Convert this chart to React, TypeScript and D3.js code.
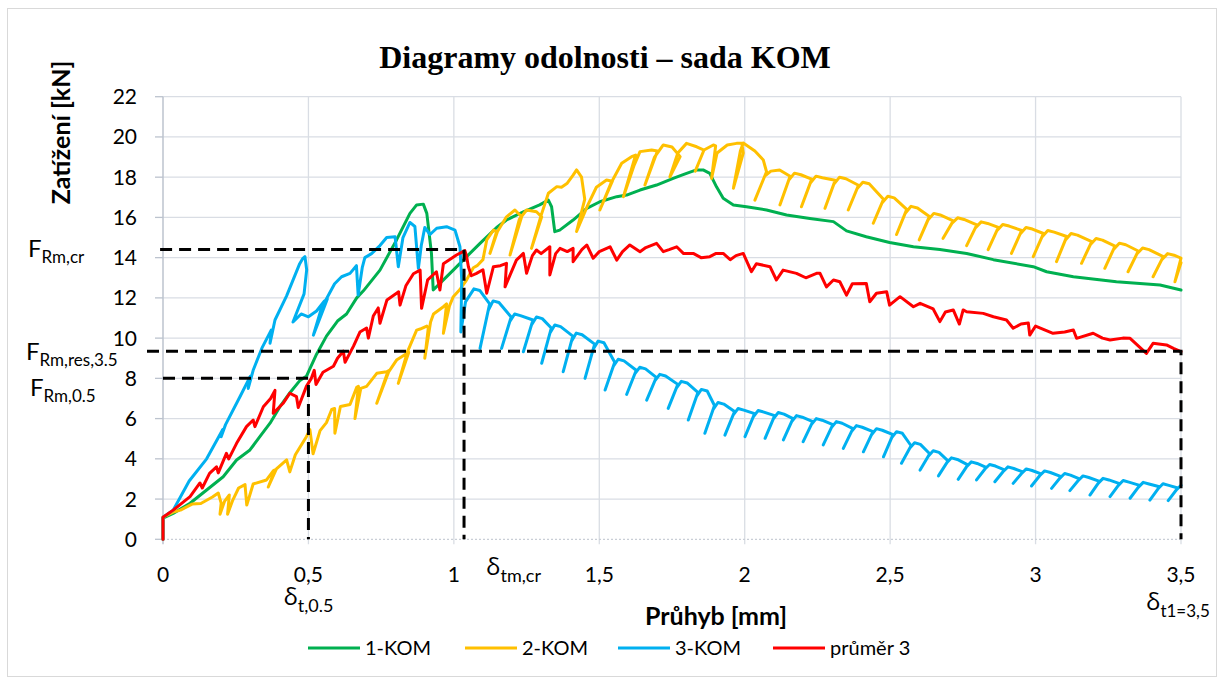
import React from 'react';
import * as d3 from 'd3';

type P = [number, number];

// ---------- axis ticks ----------
const xTicks: number[] = [0, 0.5, 1, 1.5, 2, 2.5, 3, 3.5];
const xTickLabels: string[] = ['0', '0,5', '1', '1,5', '2', '2,5', '3', '3,5'];
const yTicks: number[] = [0, 2, 4, 6, 8, 10, 12, 14, 16, 18, 20, 22];
const yTickLabels: string[] = ['0', '2', '4', '6', '8', '10', '12', '14', '16', '18', '20', '22'];

// ---------- series ----------
const seriesNames: string[] = ['1-KOM', '2-KOM', '3-KOM', 'průměr 3'];
const seriesColors: string[] = ['#00B050', '#FFC000', '#00B0F0', '#FF0000'];

const kom1: P[] = [
  [0, 0], [0, 1.05], [0.035, 1.29], [0.093, 1.79], [0.15, 2.45], [0.207, 3.11], [0.253, 3.94], [0.299, 4.44],
  [0.333, 5.1], [0.368, 5.77], [0.402, 6.59], [0.437, 7.3], [0.471, 7.9], [0.493, 8.1], [0.528, 9.2], [0.562, 10.1],
  [0.6, 10.85], [0.631, 11.2], [0.666, 12.0], [0.689, 12.35], [0.746, 13.38], [0.803, 14.88], [0.849, 16.2],
  [0.872, 16.62], [0.895, 16.66], [0.907, 16.2], [0.923, 14.21], [0.929, 12.39], [0.952, 12.72], [0.998, 13.38],
  [1.044, 14.05], [1.09, 14.71], [1.147, 15.5], [1.181, 15.87], [1.239, 16.28], [1.295, 16.62], [1.325, 16.86],
  [1.336, 16.53], [1.347, 15.29], [1.364, 15.37], [1.41, 15.87], [1.457, 16.45], [1.502, 16.78], [1.56, 17.03],
  [1.594, 17.11], [1.64, 17.36], [1.697, 17.61], [1.754, 17.94], [1.8, 18.19], [1.834, 18.36], [1.857, 18.36],
  [1.88, 18.19], [1.903, 17.52], [1.926, 16.95], [1.961, 16.62], [2.006, 16.53], [2.075, 16.37], [2.144, 16.12],
  [2.224, 15.95], [2.305, 15.79], [2.35, 15.33], [2.418, 15.04], [2.498, 14.75], [2.58, 14.54], [2.671, 14.4],
  [2.763, 14.21], [2.855, 13.9], [2.992, 13.55], [3.038, 13.3], [3.13, 13.05], [3.278, 12.8], [3.428, 12.64],
  [3.5, 12.39],
];

const kom2: P[] = [
  [0, 0], [0, 1.1], [0.035, 1.35], [0.06, 1.45], [0.1, 1.75], [0.13, 1.78], [0.17, 2.1], [0.19, 2.3], [0.2, 1.8],
  [0.196, 1.25], [0.212, 1.9], [0.228, 2.2], [0.222, 1.25], [0.24, 1.95], [0.26, 2.55], [0.282, 2.72], [0.288, 1.7],
  [0.31, 2.75], [0.356, 2.95], [0.379, 3.4], [0.385, 3.45], [0.362, 2.6], [0.39, 3.5], [0.425, 3.95], [0.436, 3.35],
  [0.455, 4.2], [0.493, 5.1], [0.505, 5.45], [0.516, 4.25], [0.54, 5.4], [0.562, 5.8], [0.58, 6.45], [0.59, 6.5],
  [0.591, 5.27], [0.61, 6.6], [0.643, 6.7], [0.666, 7.55], [0.672, 7.6], [0.66, 6.0], [0.68, 7.5], [0.7, 7.6],
  [0.735, 8.25], [0.769, 8.33], [0.778, 8.4], [0.735, 6.76], [0.77, 8.2], [0.803, 8.91], [0.838, 9.24], [0.845, 9.3],
  [0.809, 7.75], [0.84, 9.3], [0.872, 10.4], [0.884, 10.45], [0.907, 10.6], [0.912, 10.5], [0.9, 9.0], [0.92, 10.8],
  [0.93, 11.2], [0.964, 11.56], [0.975, 11.7], [0.964, 10.24], [0.985, 11.6], [0.998, 12.06], [1.02, 12.4],
  [1.044, 12.9], [1.067, 13.5], [1.08, 13.6], [1.1, 13.9], [1.113, 14.88], [1.136, 15.37], [1.147, 15.29],
  [1.124, 14.21], [1.15, 15.3], [1.181, 16.03], [1.21, 16.37], [1.233, 16.03], [1.193, 14.13], [1.225, 15.9],
  [1.25, 16.37], [1.284, 16.28], [1.302, 16.03], [1.267, 14.46], [1.3, 16.1], [1.325, 17.2], [1.354, 17.53],
  [1.37, 17.5], [1.39, 17.7], [1.41, 18.1], [1.422, 18.36], [1.439, 18.0], [1.45, 16.9], [1.422, 15.3], [1.46, 16.6],
  [1.49, 17.5], [1.525, 17.86], [1.545, 17.8], [1.502, 16.37], [1.54, 17.7], [1.577, 18.69], [1.611, 19.02],
  [1.625, 19.1], [1.583, 17.03], [1.62, 18.6], [1.64, 19.27], [1.68, 19.35], [1.7, 19.3], [1.657, 17.61], [1.69, 19.0],
  [1.72, 19.6], [1.75, 19.5], [1.778, 19.02], [1.743, 18.02], [1.77, 19.2], [1.8, 19.68], [1.835, 19.51],
  [1.86, 19.35], [1.83, 18.3], [1.86, 19.35], [1.892, 19.6], [1.9, 19.55], [1.886, 17.94], [1.905, 19.2],
  [1.94, 19.6], [1.972, 19.68], [1.99, 19.68], [1.995, 19.2], [1.961, 17.45], [1.985, 19.3], [1.995, 19.7],
  [2.035, 19.3], [2.064, 18.85], [2.075, 18.27], [2.035, 16.86], [2.069, 18.06], [2.09, 18.3],
  [2.12, 18.36], [2.156, 18.05],
  [2.121, 16.62], [2.151, 17.84], [2.171, 18.2], [2.193, 18.12], [2.23, 17.9],
  [2.195, 16.53], [2.225, 17.69], [2.245, 18.05], [2.267, 17.97], [2.311, 17.85],
  [2.276, 16.45], [2.306, 17.64], [2.326, 18.0], [2.348, 17.92], [2.391, 17.6],
  [2.356, 16.37], [2.386, 17.42], [2.406, 17.75], [2.428, 17.67], [2.477, 16.9],
  [2.442, 15.71], [2.472, 16.72], [2.492, 17.05], [2.514, 16.97], [2.557, 16.4],
  [2.522, 15.15], [2.552, 16.21], [2.572, 16.55], [2.594, 16.47], [2.635, 16.05],
  [2.6, 14.88], [2.63, 15.87], [2.65, 16.2], [2.672, 16.12], [2.717, 15.83],
  [2.682, 14.96], [2.712, 15.7], [2.732, 15.98], [2.754, 15.9], [2.798, 15.63],
  [2.763, 14.6], [2.793, 15.48], [2.813, 15.78], [2.835, 15.7], [2.872, 15.5],
  [2.837, 14.4], [2.867, 15.34], [2.887, 15.65], [2.909, 15.57], [2.952, 15.35],
  [2.917, 14.21], [2.947, 15.18], [2.967, 15.5], [2.989, 15.42], [3.027, 15.2],
  [2.992, 14.05], [3.022, 15.03], [3.042, 15.35], [3.064, 15.27], [3.107, 15.05],
  [3.072, 13.8], [3.102, 14.86], [3.122, 15.2], [3.144, 15.12], [3.193, 14.8],
  [3.158, 13.72], [3.188, 14.64], [3.208, 14.95], [3.23, 14.87], [3.273, 14.57],
  [3.238, 13.47], [3.268, 14.41], [3.288, 14.72], [3.31, 14.64], [3.353, 14.33],
  [3.318, 13.3], [3.348, 14.18], [3.368, 14.48], [3.39, 14.4], [3.439, 14.05],
  [3.404, 13.05], [3.434, 13.9], [3.454, 14.2], [3.476, 14.12], [3.5, 13.98],
  [3.479, 12.8], [3.5, 13.75],
];

const kom3: P[] = [
  [0, 0], [0, 1.1], [0.035, 1.45], [0.09, 2.9], [0.15, 4.0], [0.205, 5.45], [0.2, 5.1], [0.215, 5.7], [0.265, 7.1],
  [0.3, 8.1], [0.293, 7.5], [0.31, 8.4], [0.34, 9.5], [0.372, 10.4], [0.368, 9.75], [0.385, 10.9], [0.425, 12.1],
  [0.47, 13.7], [0.48, 13.95], [0.488, 14.05], [0.494, 13.4], [0.485, 12.2], [0.447, 10.8], [0.475, 11.2], [0.5, 11.06],
  [0.528, 11.35], [0.555, 11.85], [0.565, 11.95], [0.517, 10.15], [0.545, 11.5], [0.59, 12.7], [0.614, 13.05],
  [0.643, 13.22], [0.665, 13.6], [0.671, 12.14], [0.685, 13.5], [0.694, 14.0], [0.717, 14.2], [0.746, 14.6],
  [0.769, 15.0], [0.798, 15.04], [0.809, 13.55], [0.825, 15.0], [0.849, 15.75], [0.866, 15.55], [0.878, 13.47],
  [0.888, 14.6], [0.9, 15.5], [0.918, 15.15], [0.941, 15.46], [0.975, 15.54], [1.004, 15.37], [1.021, 14.54],
  [1.027, 12.9],
  [1.024, 10.3], [1.04, 11.8], [1.069, 12.45], [1.089, 12.37], [1.123, 11.7],
  [1.09, 9.49], [1.118, 11.37], [1.135, 11.85], [1.155, 11.77], [1.197, 11.05],
  [1.164, 9.49], [1.192, 10.82], [1.209, 11.2], [1.229, 11.12], [1.272, 10.9],
  [1.239, 9.32], [1.267, 10.66], [1.284, 11.05], [1.304, 10.97], [1.335, 10.5],
  [1.302, 8.75], [1.33, 10.24], [1.347, 10.65], [1.367, 10.57], [1.409, 10.1],
  [1.376, 8.33], [1.404, 9.83], [1.421, 10.25], [1.441, 10.17], [1.484, 9.7],
  [1.451, 8.0], [1.479, 9.45], [1.496, 9.85], [1.516, 9.77], [1.553, 8.8],
  [1.52, 7.42], [1.548, 8.59], [1.565, 8.95], [1.585, 8.87], [1.627, 8.4],
  [1.594, 7.2], [1.622, 8.22], [1.639, 8.55], [1.659, 8.47], [1.696, 8.05],
  [1.663, 6.92], [1.691, 7.88], [1.708, 8.2], [1.728, 8.12], [1.77, 7.7],
  [1.737, 6.51], [1.765, 7.52], [1.782, 7.85], [1.802, 7.77], [1.839, 7.3],
  [1.806, 5.93], [1.834, 7.09], [1.851, 7.45], [1.871, 7.37], [1.896, 6.65],
  [1.863, 5.27], [1.891, 6.44], [1.908, 6.8], [1.928, 6.72], [1.965, 6.35],
  [1.932, 5.18], [1.96, 6.17], [1.977, 6.5], [1.997, 6.42], [2.034, 6.25],
  [2.001, 5.1], [2.029, 6.08], [2.046, 6.4], [2.066, 6.32], [2.103, 6.15],
  [2.07, 5.02], [2.098, 5.98], [2.115, 6.3], [2.135, 6.22], [2.166, 6.0],
  [2.133, 4.94], [2.161, 5.84], [2.178, 6.15], [2.198, 6.07], [2.234, 5.85],
  [2.201, 4.85], [2.229, 5.7], [2.246, 6.0], [2.266, 5.92], [2.303, 5.7],
  [2.27, 4.69], [2.298, 5.55], [2.315, 5.85], [2.335, 5.77], [2.372, 5.5],
  [2.339, 4.52], [2.367, 5.35], [2.384, 5.65], [2.404, 5.57], [2.441, 5.35],
  [2.408, 4.35], [2.436, 5.2], [2.453, 5.5], [2.473, 5.42], [2.51, 5.2],
  [2.477, 4.1], [2.505, 5.04], [2.522, 5.35], [2.542, 5.27], [2.572, 4.65],
  [2.539, 3.78], [2.567, 4.52], [2.584, 4.8], [2.604, 4.72], [2.636, 4.25],
  [2.603, 3.44], [2.631, 4.13], [2.648, 4.4], [2.668, 4.32], [2.699, 3.9],
  [2.666, 3.15], [2.694, 3.79], [2.711, 4.05], [2.731, 3.97], [2.767, 3.7],
  [2.734, 2.98], [2.762, 3.59], [2.779, 3.85], [2.799, 3.77], [2.83, 3.57],
  [2.797, 2.95], [2.825, 3.48], [2.842, 3.72], [2.862, 3.64], [2.893, 3.45],
  [2.86, 2.86], [2.888, 3.36], [2.905, 3.6], [2.925, 3.52], [2.956, 3.35],
  [2.923, 2.78], [2.951, 3.26], [2.968, 3.5], [2.988, 3.42], [3.019, 3.25],
  [2.986, 2.65], [3.014, 3.16], [3.031, 3.4], [3.051, 3.32], [3.088, 3.12],
  [3.055, 2.53], [3.083, 3.03], [3.1, 3.27], [3.12, 3.19], [3.151, 3.0],
  [3.118, 2.42], [3.146, 2.91], [3.163, 3.15], [3.183, 3.07], [3.22, 2.88],
  [3.187, 2.2], [3.215, 2.78], [3.232, 3.03], [3.252, 2.95], [3.289, 2.77],
  [3.256, 2.12], [3.284, 2.67], [3.301, 2.92], [3.321, 2.84], [3.358, 2.68],
  [3.325, 2.04], [3.353, 2.58], [3.37, 2.83], [3.39, 2.75], [3.426, 2.61],
  [3.393, 1.95], [3.421, 2.51], [3.438, 2.76], [3.458, 2.68], [3.489, 2.55],
  [3.456, 1.92], [3.484, 2.46], [3.5, 2.68],
];

const prumer3: P[] = [
  [0, 0], [0, 1.1], [0.035, 1.45], [0.093, 2.12], [0.127, 2.8], [0.135, 2.55], [0.16, 3.28], [0.184, 3.6],
  [0.19, 3.3], [0.218, 4.27], [0.226, 4.0], [0.253, 4.77], [0.287, 5.6], [0.31, 5.93], [0.316, 5.6], [0.345, 6.59],
  [0.37, 7.0], [0.385, 7.4], [0.379, 6.26], [0.413, 6.76], [0.436, 7.26], [0.459, 7.09], [0.465, 6.55], [0.493, 7.6],
  [0.51, 8.0], [0.52, 8.4], [0.526, 7.7], [0.55, 8.3], [0.586, 8.6], [0.6, 9.0], [0.62, 9.35], [0.626, 8.8],
  [0.655, 9.6], [0.677, 10.3], [0.7, 10.5], [0.706, 10.0], [0.723, 11.1], [0.74, 11.5], [0.746, 10.74], [0.77, 11.9],
  [0.803, 12.23], [0.81, 12.3], [0.815, 11.64], [0.835, 12.6], [0.861, 13.2], [0.884, 13.38], [0.889, 11.48],
  [0.91, 12.9], [0.94, 13.3], [0.952, 12.39], [0.964, 13.7], [1.009, 14.13], [1.038, 14.35], [1.044, 14.05],
  [1.05, 13.55], [1.06, 13.1], [1.078, 13.22], [1.1, 13.4], [1.113, 12.23], [1.136, 13.55], [1.16, 13.6],
  [1.181, 13.72], [1.176, 12.55], [1.215, 13.88], [1.239, 14.21], [1.25, 13.22], [1.27, 14.1], [1.284, 14.38],
  [1.3, 14.2], [1.33, 14.54], [1.33, 13.14], [1.35, 14.2], [1.365, 14.46], [1.39, 14.3], [1.41, 14.46], [1.41, 13.8],
  [1.44, 14.4], [1.457, 14.63], [1.479, 13.97], [1.5, 14.3], [1.537, 14.54], [1.56, 13.88], [1.58, 14.3],
  [1.605, 14.63], [1.64, 14.29], [1.66, 14.5], [1.697, 14.71], [1.72, 14.3], [1.74, 14.4], [1.766, 14.54],
  [1.79, 14.2], [1.823, 14.21], [1.85, 14.0], [1.88, 14.05], [1.9, 14.2], [1.926, 14.21], [1.95, 13.9], [1.97, 14.1],
  [1.995, 14.21], [2.023, 13.3], [2.04, 13.7], [2.087, 13.55], [2.109, 12.89], [2.132, 13.38], [2.178, 13.22],
  [2.21, 13.0], [2.247, 13.22], [2.259, 13.22], [2.281, 12.55], [2.305, 12.89], [2.327, 12.8], [2.35, 12.14],
  [2.37, 12.7], [2.418, 12.72], [2.43, 11.81], [2.453, 12.23], [2.488, 12.31], [2.498, 11.64], [2.534, 12.06],
  [2.58, 11.56], [2.603, 11.73], [2.648, 11.45], [2.671, 10.82], [2.69, 11.3], [2.717, 11.4], [2.738, 10.7],
  [2.751, 11.4], [2.763, 11.31], [2.82, 11.23], [2.855, 11.06], [2.9, 10.9], [2.923, 10.49], [2.95, 10.7],
  [2.975, 10.75], [2.98, 10.15], [3.0, 10.6], [3.06, 10.24], [3.1, 10.3], [3.13, 10.4], [3.141, 9.99],
  [3.198, 10.24], [3.23, 10.0], [3.256, 9.91], [3.3, 10.0], [3.325, 9.99], [3.381, 9.24], [3.404, 9.74],
  [3.45, 9.66], [3.474, 9.49], [3.5, 9.33],
];

// ---------- dashed guide lines (values) ----------
const guideFcr: P[] = [[-0.01, 14.4], [1.035, 14.4], [1.035, 0]];
const guideFres: P[] = [[-0.055, 9.35], [3.5, 9.35], [3.5, 0]];
const guideF05: P[] = [[0, 8], [0.5, 8], [0.5, 0]];

const sans = "Lato, 'Open Sans', sans-serif";
const greek = "'Open Sans', 'DejaVu Sans', sans-serif";

export default function App() {
  const W = 1222;
  const H = 684;
  const xs = d3.scaleLinear().domain([0, 3.5]).range([163, 1181]);
  const ys = d3.scaleLinear().domain([0, 22]).range([539.3, 96.7]);

  const lineLin = d3.line<P>().x((d) => xs(d[0])).y((d) => ys(d[1]));

  const seriesData: P[][] = [kom1, kom2, kom3, prumer3];

  const guides = [guideFcr, guideFres, guideF05];
  const gridColor = '#D9DDE4';
  const legendX = [308, 465, 618, 773];

  return (
    <svg
      width={W}
      height={H}
      style={{ position: 'absolute', left: 0, top: 0, background: '#fff' }}
    >
      <rect x={0} y={0} width={W} height={H} fill="#fff" />
      <rect x={7.5} y={8.5} width={1209} height={668} fill="none" stroke="#D9D9D9" strokeWidth={1} />

      {/* gridlines */}
      {yTicks.filter((v) => v > 0).map((v) => (
        <line key={'gy' + v} x1={xs(0)} x2={xs(3.5)} y1={ys(v)} y2={ys(v)} stroke={gridColor} strokeWidth={1.3} />
      ))}
      {xTicks.filter((v) => v > 0).map((v) => (
        <line key={'gx' + v} x1={xs(v)} x2={xs(v)} y1={ys(22)} y2={ys(0) + 5} stroke={gridColor} strokeWidth={1.3} />
      ))}
      {/* x axis (dotted) */}
      <line x1={xs(0)} x2={xs(3.5)} y1={ys(0)} y2={ys(0)} stroke="#C9CED6" strokeWidth={1.3} strokeDasharray="2,2" />
      {/* y axis */}
      <line x1={xs(0)} x2={xs(0)} y1={ys(22)} y2={ys(0) + 5} stroke="#BCC3CE" strokeWidth={1.5} />
      {yTicks.map((v) => (
        <line key={'ty' + v} x1={xs(0) - 8} x2={xs(0)} y1={ys(v)} y2={ys(v)} stroke="#BCC3CE" strokeWidth={1.3} />
      ))}

      {/* tick labels */}
      {yTicks.map((v, i) => (
        <text key={'ly' + v} x={137} y={ys(v) + 7.5} textAnchor="end" fontFamily={sans} fontSize={21} fill="#000">
          {yTickLabels[i]}
        </text>
      ))}
      {xTicks.map((v, i) => (
        <text key={'lx' + v} x={xs(v)} y={582} textAnchor="middle" fontFamily={sans} fontSize={21} fill="#000">
          {xTickLabels[i]}
        </text>
      ))}

      {/* series */}
      {seriesData.map((s, i) => (
        <path
          key={'s' + i}
          d={lineLin(s) || ''}
          fill="none"
          stroke={seriesColors[i]}
          strokeWidth={3}
          strokeLinejoin="round"
          strokeLinecap="round"
        />
      ))}

      {/* dashed guides */}
      {guides.map((g, i) => (
        <path
          key={'g' + i}
          d={lineLin(g) || ''}
          fill="none"
          stroke="#000"
          strokeWidth={3}
          strokeDasharray="12,7"
        />
      ))}

      {/* title */}
      <text
        x={605}
        y={68}
        textAnchor="middle"
        fontFamily="'Liberation Serif', 'Times New Roman', serif"
        fontWeight="bold"
        fontSize={32}
        fill="#000"
      >
        Diagramy odolnosti – sada KOM
      </text>

      {/* axis titles */}
      <text
        transform="translate(70,132.5) rotate(-90)"
        textAnchor="middle"
        fontFamily={sans}
        fontWeight="bold"
        fontSize={25}
        fill="#000"
      >
        Zatížení [kN]
      </text>
      <text x={716} y={625} textAnchor="middle" fontFamily={sans} fontWeight="bold" fontSize={25} fill="#000">
        Průhyb [mm]
      </text>

      {/* F labels */}
      <text x={28} y={257} fontFamily={sans} fontSize={24} fill="#000">
        F<tspan fontSize={17} dy={6}>Rm,cr</tspan>
      </text>
      <text x={26} y={360} fontFamily={sans} fontSize={24} fill="#000">
        F<tspan fontSize={17} dy={6}>Rm,res,3.5</tspan>
      </text>
      <text x={30} y={396} fontFamily={sans} fontSize={24} fill="#000">
        F<tspan fontSize={17} dy={6}>Rm,0.5</tspan>
      </text>

      {/* delta labels */}
      <text x={xs(1.035) + 22} y={575} fontFamily={greek} fontSize={24} fill="#000">
        δ<tspan fontFamily={sans} fontSize={18} dy={7}>tm,cr</tspan>
      </text>
      <text x={xs(0.5) - 25} y={605} fontFamily={greek} fontSize={24} fill="#000">
        δ<tspan fontFamily={sans} fontSize={18} dy={7}>t,0.5</tspan>
      </text>
      <text x={xs(3.5) - 35} y={610} fontFamily={greek} fontSize={24} fill="#000">
        δ<tspan fontFamily={sans} fontSize={17} dy={7}>t1=3,5</tspan>
      </text>

      {/* legend */}
      {seriesNames.map((n, i) => (
        <g key={'lg' + i}>
          <line x1={legendX[i]} x2={legendX[i] + 52} y1={648} y2={648} stroke={seriesColors[i]} strokeWidth={3} />
          <text x={legendX[i] + 57} y={655} fontFamily={sans} fontSize={20} fill="#000">
            {n}
          </text>
        </g>
      ))}
    </svg>
  );
}
